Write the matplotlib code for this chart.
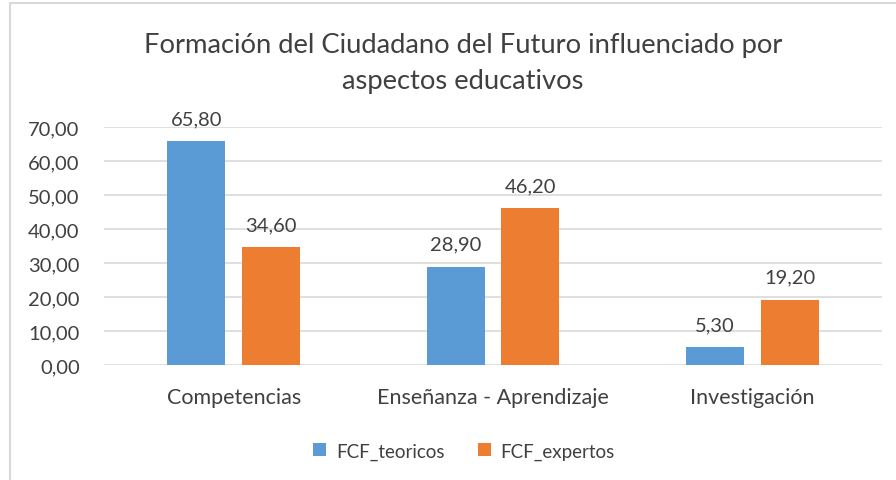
import matplotlib
matplotlib.use("Agg")
import matplotlib.pyplot as plt
import numpy as np
from matplotlib.patches import Rectangle

plt.rcParams['font.family'] = ['Lato', 'DejaVu Sans']

categories = ["Competencias", "Enseñanza - Aprendizaje", "Investigación"]
series_names = ["FCF_teoricos", "FCF_expertos"]
teoricos = [65.80, 28.90, 5.30]
expertos = [34.60, 46.20, 19.20]
yticks = [0, 10, 20, 30, 40, 50, 60, 70]

blue = "#5B9BD5"
orange = "#ED7D31"
text_col = "#404040"
grid_col = "#D9D9D9"

W, H = 896, 481
fig = plt.figure(figsize=(W / 100, H / 100), dpi=100)
fig.patch.set_facecolor("white")

# chart frame
fig.patches.append(Rectangle((10 / W, -0.1), 1.2, (H - 4) / H + 0.1,
                             transform=fig.transFigure, fill=False,
                             edgecolor=grid_col, linewidth=1.5))

ax = fig.add_axes([104 / W, 1 - 366 / H, (882 - 104) / W, (366 - 128) / H])
x = np.arange(len(categories))
w = 0.224
off = 0.144
b1 = ax.bar(x - off, teoricos, w, color=blue, label=series_names[0])
b2 = ax.bar(x + off, expertos, w, color=orange, label=series_names[1])

def fmt(v):
    return f"{v:.2f}".replace(".", ",")

for bars, vals in ((b1, teoricos), (b2, expertos)):
    for r, v in zip(bars, vals):
        ax.annotate(fmt(v), (r.get_x() + r.get_width() / 2, v),
                    xytext=(0, 10), textcoords="offset points",
                    ha="center", va="bottom", fontsize=14.5, color=text_col)

ax.set_xlim(-0.5, 2.5)
ax.set_ylim(0, 70)
ax.set_yticks(yticks)
ax.set_yticklabels([fmt(t) for t in yticks], fontsize=14.5, color=text_col)
ax.set_xticks(x)
ax.set_xticklabels(categories, fontsize=15.5, color=text_col)
ax.tick_params(axis="both", length=0)
ax.tick_params(axis="y", pad=17.5)
ax.tick_params(axis="x", pad=16)
ax.grid(axis="y", color=grid_col, linewidth=1.2)
ax.set_axisbelow(True)
for s in ax.spines.values():
    s.set_visible(False)

fig.text(463 / W, 1 - 64 / H,
         "Formación del Ciudadano del Futuro influenciado por\naspectos educativos",
         ha="center", va="center", fontsize=19.7, color=text_col, linespacing=1.55)

leg = fig.legend(handles=[b1, b2], labels=series_names, loc="center",
                 bbox_to_anchor=(464 / W, 1 - 452 / H), ncol=2, frameon=False,
                 fontsize=13.5, handlelength=0.7, handleheight=0.7,
                 columnspacing=1.8, handletextpad=0.5)
for t in leg.get_texts():
    t.set_color(text_col)

fig.savefig("out.png", dpi=100, facecolor="white")
